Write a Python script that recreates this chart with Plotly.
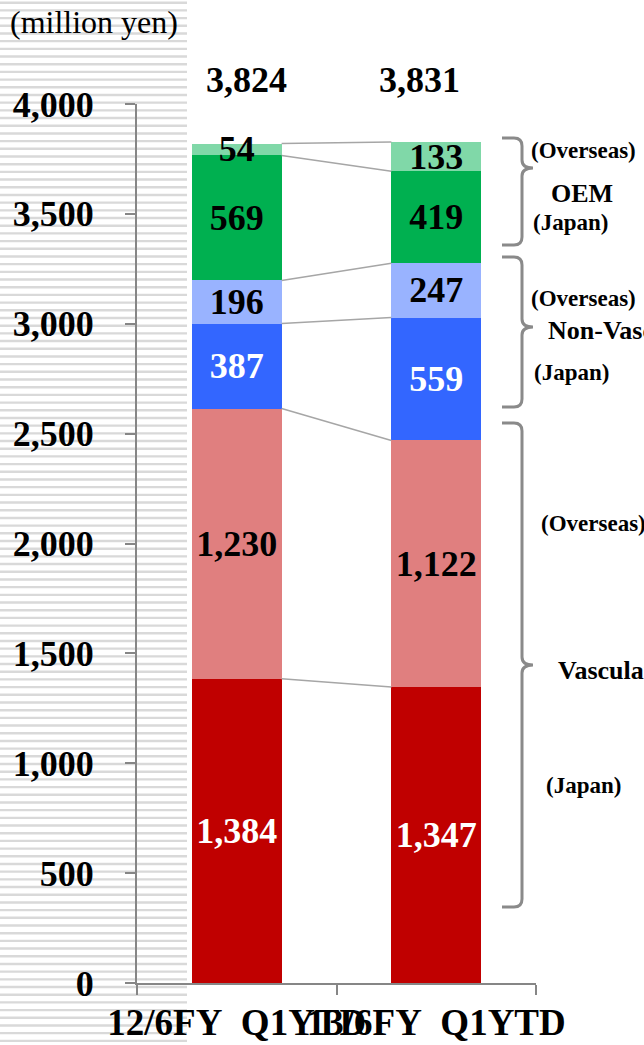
import plotly.graph_objects as go

# ---- data -------------------------------------------------------------
categories = ["12/6FY\u00a0 Q1YTD", "13/6FY\u00a0 Q1YTD"]
segment_names = ["Vascular (Japan)", "Vascular (Overseas)",
                 "Non-Vascular (Japan)", "Non-Vascular (Overseas)",
                 "OEM (Japan)", "OEM (Overseas)"]
vascular_japan = [1384, 1347]
vascular_overseas = [1230, 1122]
nonvascular_japan = [387, 559]
nonvascular_overseas = [196, 247]
oem_japan = [569, 419]
oem_overseas = [54, 133]
total_labels = ["3,824", "3,831"]
y_tick_values = [0, 500, 1000, 1500, 2000, 2500, 3000, 3500, 4000]

series = [vascular_japan, vascular_overseas, nonvascular_japan,
          nonvascular_overseas, oem_japan, oem_overseas]
colors = ["#C00000", "#E07F7F", "#3366FF", "#99B3FF", "#00B050", "#80D8A8"]
text_colors = ["white", "black", "white", "black", "black", "black"]

FONT = "Liberation Serif, Times New Roman, serif"
W, H = 644, 1045
L, R, T, B = 137, 108, 104, 62
PW, PH = W - L - R, H - T - B
BAR_W = 0.45


def px_x(px):
    return (px - L) / PW


def px_y(py):
    return (H - B - py) / PH


fig = go.Figure()
for name, vals, col, tcol in zip(segment_names, series, colors, text_colors):
    fig.add_trace(go.Bar(
        x=categories, y=vals, name=name, width=BAR_W,
        marker=dict(color=col, line=dict(width=0)),
        texttemplate="%{y:,}", textposition="inside",
        insidetextanchor="middle", textangle=0, constraintext="none",
        textfont=dict(family=FONT, size=36, color=tcol, weight="bold"),
        showlegend=False, hoverinfo="skip",
    ))

shapes = []

# striped backdrop on the left
stripe_path = []
py = 2.7
while py < H:
    yp = px_y(py)
    stripe_path.append(f"M{px_x(0):.5f},{yp:.5f} L{px_x(187):.5f},{yp:.5f}")
    py += 7.69
shapes.append(dict(type="path", xref="paper", yref="paper",
                   path=" ".join(stripe_path), layer="below",
                   line=dict(color="#D9D9D9", width=2.4)))

# connector lines between segment tops of the two bars
cum = [0, 0]
for vals in series:
    cum = [cum[0] + vals[0], cum[1] + vals[1]]
    shapes.append(dict(type="line", xref="x", yref="y",
                       x0=0 + BAR_W / 2, x1=1 - BAR_W / 2,
                       y0=cum[0], y1=cum[1],
                       line=dict(color="#A6A6A6", width=1.5)))


def brace(top_py, bot_py, tip_py):
    xl, xv, xt = px_x(502), px_x(522), px_x(533)
    r = 8 / PW
    top, bot, tip = px_y(top_py), px_y(bot_py), px_y(tip_py)
    d = 8 / PH
    path = (f"M{xl},{top} L{xv - r},{top} Q{xv},{top} {xv},{top - d} "
            f"L{xv},{tip + d} Q{xv},{tip} {xt},{tip} "
            f"Q{xv},{tip} {xv},{tip - d} "
            f"L{xv},{bot + d} Q{xv},{bot} {xv - r},{bot} L{xl},{bot}")
    return dict(type="path", xref="paper", yref="paper", path=path,
                line=dict(color="#8A8A8A", width=3))


shapes.append(brace(138, 245, 168))
shapes.append(brace(257, 407, 327))
shapes.append(brace(423, 907, 665))

annotations = []


def note(text, px, py, size, bold=True, xanchor="left"):
    annotations.append(dict(
        text=text, xref="paper", yref="paper", x=px_x(px), y=px_y(py),
        xanchor=xanchor, yanchor="middle", showarrow=False,
        font=dict(family=FONT, size=size, color="black",
                  weight="bold" if bold else "normal")))


note("(million yen)", 8, 22, 32, bold=False)
note(total_labels[0], 246, 80, 36, xanchor="center")
note(total_labels[1], 419, 80, 36, xanchor="center")

note("(Overseas)", 529, 150, 23)
note("OEM", 549, 193, 26)
note("(Japan)", 531, 222, 23)
note("(Overseas)", 529, 298, 23)
note("Non-Vascular", 546, 330, 26)
note("(Japan)", 532, 373, 23)
note("(Overseas)", 539, 523, 23)
note("Vascular", 556, 670, 26)
note("(Japan)", 544, 785, 23)

axis_gray = "#868686"
fig.update_layout(
    template="none",
    width=W, height=H,
    margin=dict(l=L, r=R, t=T, b=B, autoexpand=False),
    paper_bgcolor="white", plot_bgcolor="rgba(0,0,0,0)",
    barmode="stack", bargap=0.55,
    shapes=shapes, annotations=annotations,
    xaxis=dict(
        type="category", showgrid=False, zeroline=False,
        showline=True, linecolor=axis_gray, linewidth=2,
        ticks="outside", ticklen=10, tickwidth=2, tickcolor=axis_gray,
        tickson="boundaries", tickangle=0, automargin=False,
        ticklabelstandoff=6,
        tickfont=dict(family=FONT, size=37, color="black", weight="bold"),
        range=[-0.5, 1.5],
    ),
    yaxis=dict(
        range=[0, 4000], tickvals=y_tick_values, tickformat=",",
        showgrid=False, zeroline=False,
        showline=True, linecolor=axis_gray, linewidth=2,
        ticks="outside", ticklen=10, tickwidth=2, tickcolor=axis_gray,
        ticklabelstandoff=24, automargin=False,
        tickfont=dict(family=FONT, size=36, color="black", weight="bold"),
    ),
)

fig.write_html("out.html")
